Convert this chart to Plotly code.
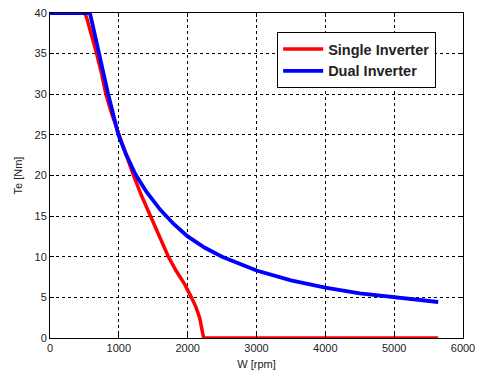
import plotly.graph_objects as go

# Single inverter torque-speed curve
single_w = [0, 500, 530, 600, 677, 750, 812, 900, 1004, 1100, 1213, 1330, 1456, 1590, 1720, 1830, 1957, 2054, 2120, 2174, 2210, 2232, 5640]
single_t = [40, 40, 39.5, 37.5, 35, 32.5, 30, 27.5, 25, 22.7, 20, 17.5, 15, 12.5, 10, 8.3, 6.6, 5, 3.8, 2.5, 1.2, 0, 0]

# Dual inverter torque-speed curve
dual_w = [0, 580, 620, 714, 845, 994, 1100, 1237, 1400, 1600, 1800, 2000, 2250, 2500, 2750, 3000, 3500, 4000, 4500, 5000, 5640]
dual_t = [40, 40, 38.5, 35, 30, 25, 22.7, 20.2, 18.0, 15.8, 14.0, 12.5, 11.1, 10.0, 9.1, 8.3, 7.1, 6.2, 5.5, 5.0, 4.43]

x_ticks = [0, 1000, 2000, 3000, 4000, 5000, 6000]
y_ticks = [0, 5, 10, 15, 20, 25, 30, 35, 40]

FONT = "Liberation Sans, Arial, sans-serif"

fig = go.Figure()
fig.add_trace(go.Scatter(x=single_w, y=single_t, mode="lines", name="Single Inverter",
                         line=dict(color="#ff0000", width=3.5)))
fig.add_trace(go.Scatter(x=dual_w, y=dual_t, mode="lines", name="Dual Inverter",
                         line=dict(color="#0000ff", width=3.8)))

axis_common = dict(showline=True, linecolor="black", linewidth=1, mirror="ticks",
                   ticks="inside", ticklen=4, tickcolor="black",
                   showgrid=True, gridcolor="black", gridwidth=1, griddash="3px,3px",
                   zeroline=False, automargin=False,
                   tickfont=dict(family=FONT, size=11, color="#222"))

fig.update_xaxes(range=[0, 6000], tickvals=x_ticks, **axis_common,
                 title=dict(text="W [rpm]", font=dict(family=FONT, size=11, color="#222"), standoff=7))
fig.update_yaxes(range=[0, 40], tickvals=y_ticks, **axis_common,
                 title=dict(text="Te [Nm]", font=dict(family=FONT, size=11, color="#222"), standoff=9))

fig.update_layout(
    width=481, height=374,
    margin=dict(l=50, r=18, t=13, b=36),
    plot_bgcolor="white", paper_bgcolor="white",
    legend=dict(x=0.55, y=0.9415, xanchor="left", yanchor="top",
                bgcolor="white", bordercolor="black", borderwidth=1,
                itemwidth=40, tracegroupgap=0,
                font=dict(family=FONT, size=14.5, color="#222", weight="bold")),
    showlegend=True,
)

fig.write_html("out.html", config={"displayModeBar": False},
               post_script="document.body.style.margin='0';")
